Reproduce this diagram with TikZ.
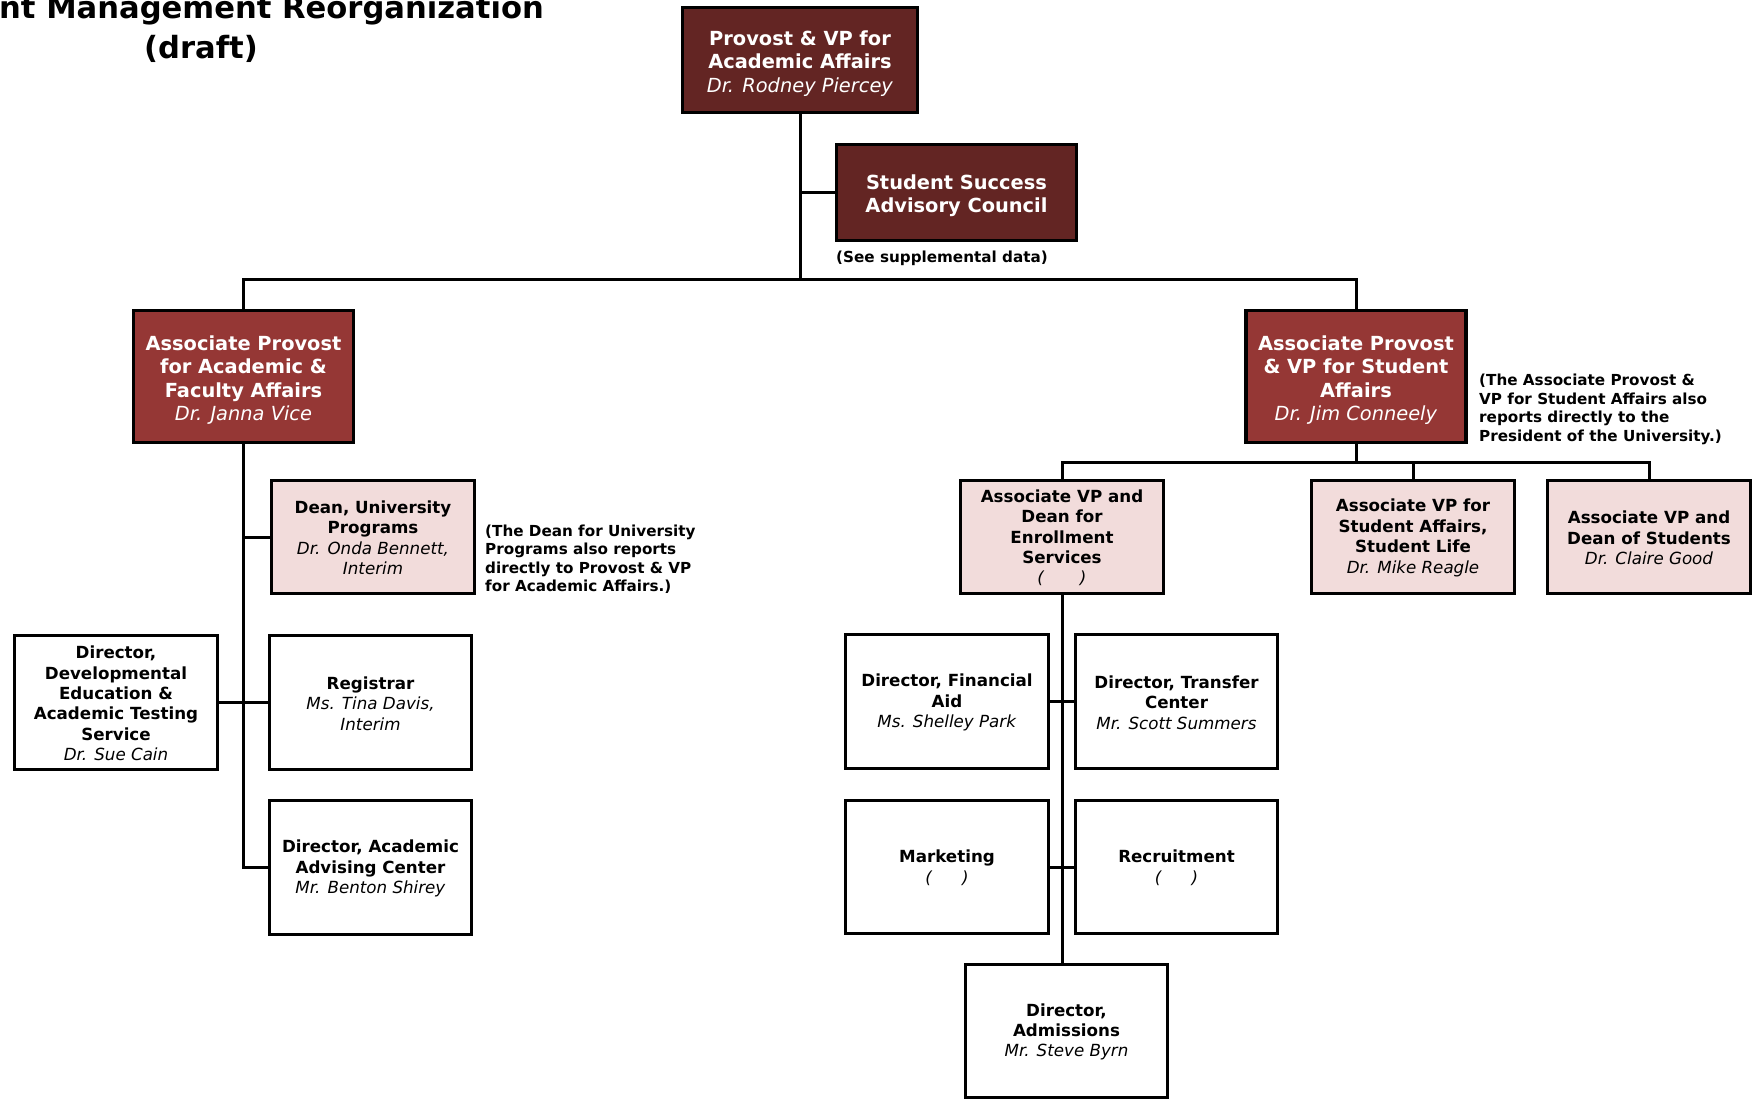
\documentclass[tikz,border=0pt]{standalone}
\usepackage{fontspec}
\setmainfont{DejaVu Sans}[BoldFont={DejaVu Sans Bold},ItalicFont={DejaVu Sans Oblique},BoldItalicFont={DejaVu Sans Bold Oblique}]
\definecolor{provcol}{HTML}{632523}
\definecolor{apcol}{HTML}{953735}
\definecolor{pinkcol}{HTML}{F2DCDB}
\newcommand\bigtopstrut{\rule{0pt}{21.5pt}}
\newcommand\smalltopstrut{\rule{0pt}{14.5pt}}
\begin{document}
\begin{tikzpicture}[x=1pt,y=-1pt,
  box/.style={draw=black,line width=3.2pt,align=center,inner sep=0pt},
  bigbox/.style={box,text=white,font=\fontsize{19.4}{23.5}\selectfont},
  provbox/.style={bigbox,fill=provcol},
  apbox/.style={bigbox,fill=apcol,minimum width=220pt,minimum height=132pt},
  smallbox/.style={box,font=\fontsize{16.7}{20.4}\selectfont},
  pinkbox/.style={smallbox,fill=pinkcol,minimum width=203pt,minimum height=113pt},
  whitebox/.style={smallbox,fill=white,minimum width=202.5pt,minimum height=134pt},
  note/.style={font=\bfseries\fontsize{15.2}{18.4}\selectfont,align=left,inner sep=0pt},
  titletext/.style={font=\bfseries\fontsize{30.6}{40}\selectfont,inner sep=0pt},
  conn/.style={line width=3pt}]
\useasboundingbox (0,0) rectangle (1754,1100);
\fill[white] (0,0) rectangle (1754,1100);

% title
\node[titletext,anchor=base west] (t1) at (-1,19) {nt Management Reorganization};
\node[titletext,anchor=base] (t2) at (201,58.5) {(draft)};

% top level
\node[provbox,minimum width=235pt,minimum height=105pt] (prov) at (800,60)
  {\bigtopstrut\textbf{Provost \& VP for}\\\textbf{Academic Affairs}\\\textit{Dr. Rodney Piercey}};
\node[provbox,minimum width=240pt,minimum height=96pt] (ssac) at (956.5,192.5)
  {\bigtopstrut\textbf{Student Success}\\\textbf{Advisory Council}};
\node[note,anchor=base west] (ssacnote) at (836,262) {(See supplemental data)};

\node[apbox] (ap1) at (243.5,376.75)
  {\bigtopstrut\textbf{Associate Provost}\\\textbf{for Academic \&}\\\textbf{Faculty Affairs}\\\textit{Dr. Janna Vice}};
\node[apbox] (ap2) at (1356,376.75)
  {\bigtopstrut\textbf{Associate Provost}\\\textbf{\& VP for Student}\\\textbf{Affairs}\\\textit{Dr. Jim Conneely}};
\node[note,anchor=north west] (ap2note) at (1479,374.2)
  {(The Associate Provost \&\\VP for Student Affairs also\\reports directly to the\\President of the University.)};

% academic side
\node[pinkbox] (dean) at (373,537)
  {\smalltopstrut\textbf{Dean, University}\\\textbf{Programs}\\\textit{Dr. Onda Bennett,}\\\textit{Interim}};
\node[note,anchor=north west] (deannote) at (485,524.5)
  {(The Dean for University\\Programs also reports\\directly to Provost \& VP\\for Academic Affairs.)};
\node[whitebox] (dev) at (116,702.5)
  {\smalltopstrut\textbf{Director,}\\\textbf{Developmental}\\\textbf{Education \&}\\\textbf{Academic Testing}\\\textbf{Service}\\\textit{Dr. Sue Cain}};
\node[whitebox] (reg) at (370.5,702.5)
  {\smalltopstrut\textbf{Registrar}\\\textit{Ms. Tina Davis,}\\\textit{Interim}};
\node[whitebox] (adv) at (370.5,867.5)
  {\smalltopstrut\textbf{Director, Academic}\\\textbf{Advising Center}\\\textit{Mr. Benton Shirey}};

% student affairs side
\node[pinkbox] (enr) at (1062,537)
  {\smalltopstrut\textbf{Associate VP and}\\\textbf{Dean for}\\\textbf{Enrollment}\\\textbf{Services}\\\textit{(\hspace{36pt})}};
\node[pinkbox] (sl) at (1413,537)
  {\smalltopstrut\textbf{Associate VP for}\\\textbf{Student Affairs,}\\\textbf{Student Life}\\\textit{Dr. Mike Reagle}};
\node[pinkbox] (dos) at (1649,537)
  {\smalltopstrut\textbf{Associate VP and}\\\textbf{Dean of Students}\\\textit{Dr. Claire Good}};

\node[whitebox] (fin) at (947,701.5)
  {\smalltopstrut\textbf{Director, Financial}\\\textbf{Aid}\\\textit{Ms. Shelley Park}};
\node[whitebox] (tr) at (1176.5,701.5)
  {\smalltopstrut\textbf{Director, Transfer}\\\textbf{Center}\\\textit{Mr. Scott Summers}};
\node[whitebox,minimum height=133.5pt] (mkt) at (947,867)
  {\smalltopstrut\textbf{Marketing}\\\textit{(\hspace{30pt})}};
\node[whitebox,minimum height=133.5pt] (rec) at (1176.5,867)
  {\smalltopstrut\textbf{Recruitment}\\\textit{(\hspace{30pt})}};
\node[whitebox,minimum height=133pt] (adm) at (1066.5,1031)
  {\smalltopstrut\textbf{Director,}\\\textbf{Admissions}\\\textit{Mr. Steve Byrn}};

% connectors
\coordinate (b1) at (800,279);
\coordinate (b2) at (1356,462.5);
\draw[conn] (prov.south) -- (b1);
\draw[conn] (prov.south |- ssac.west) -- (ssac.west);
\draw[conn] (ap1.north) |- (b1) -| (ap2.north);

\draw[conn] (ap1.south) |- (adv.west);
\draw[conn] (ap1.south |- dean.west) -- (dean.west);
\draw[conn] (dev.east) -- (reg.west);

\draw[conn] (ap2.south) -- (b2);
\draw[conn] (enr.north) |- (b2) -| (dos.north);
\draw[conn] (b2 -| sl.north) -- (sl.north);

\draw[conn] (enr.south) -- (enr.south |- adm.north);
\draw[conn] (fin.east) -- (tr.west);
\draw[conn] (mkt.east) -- (rec.west);
\end{tikzpicture}
\end{document}
